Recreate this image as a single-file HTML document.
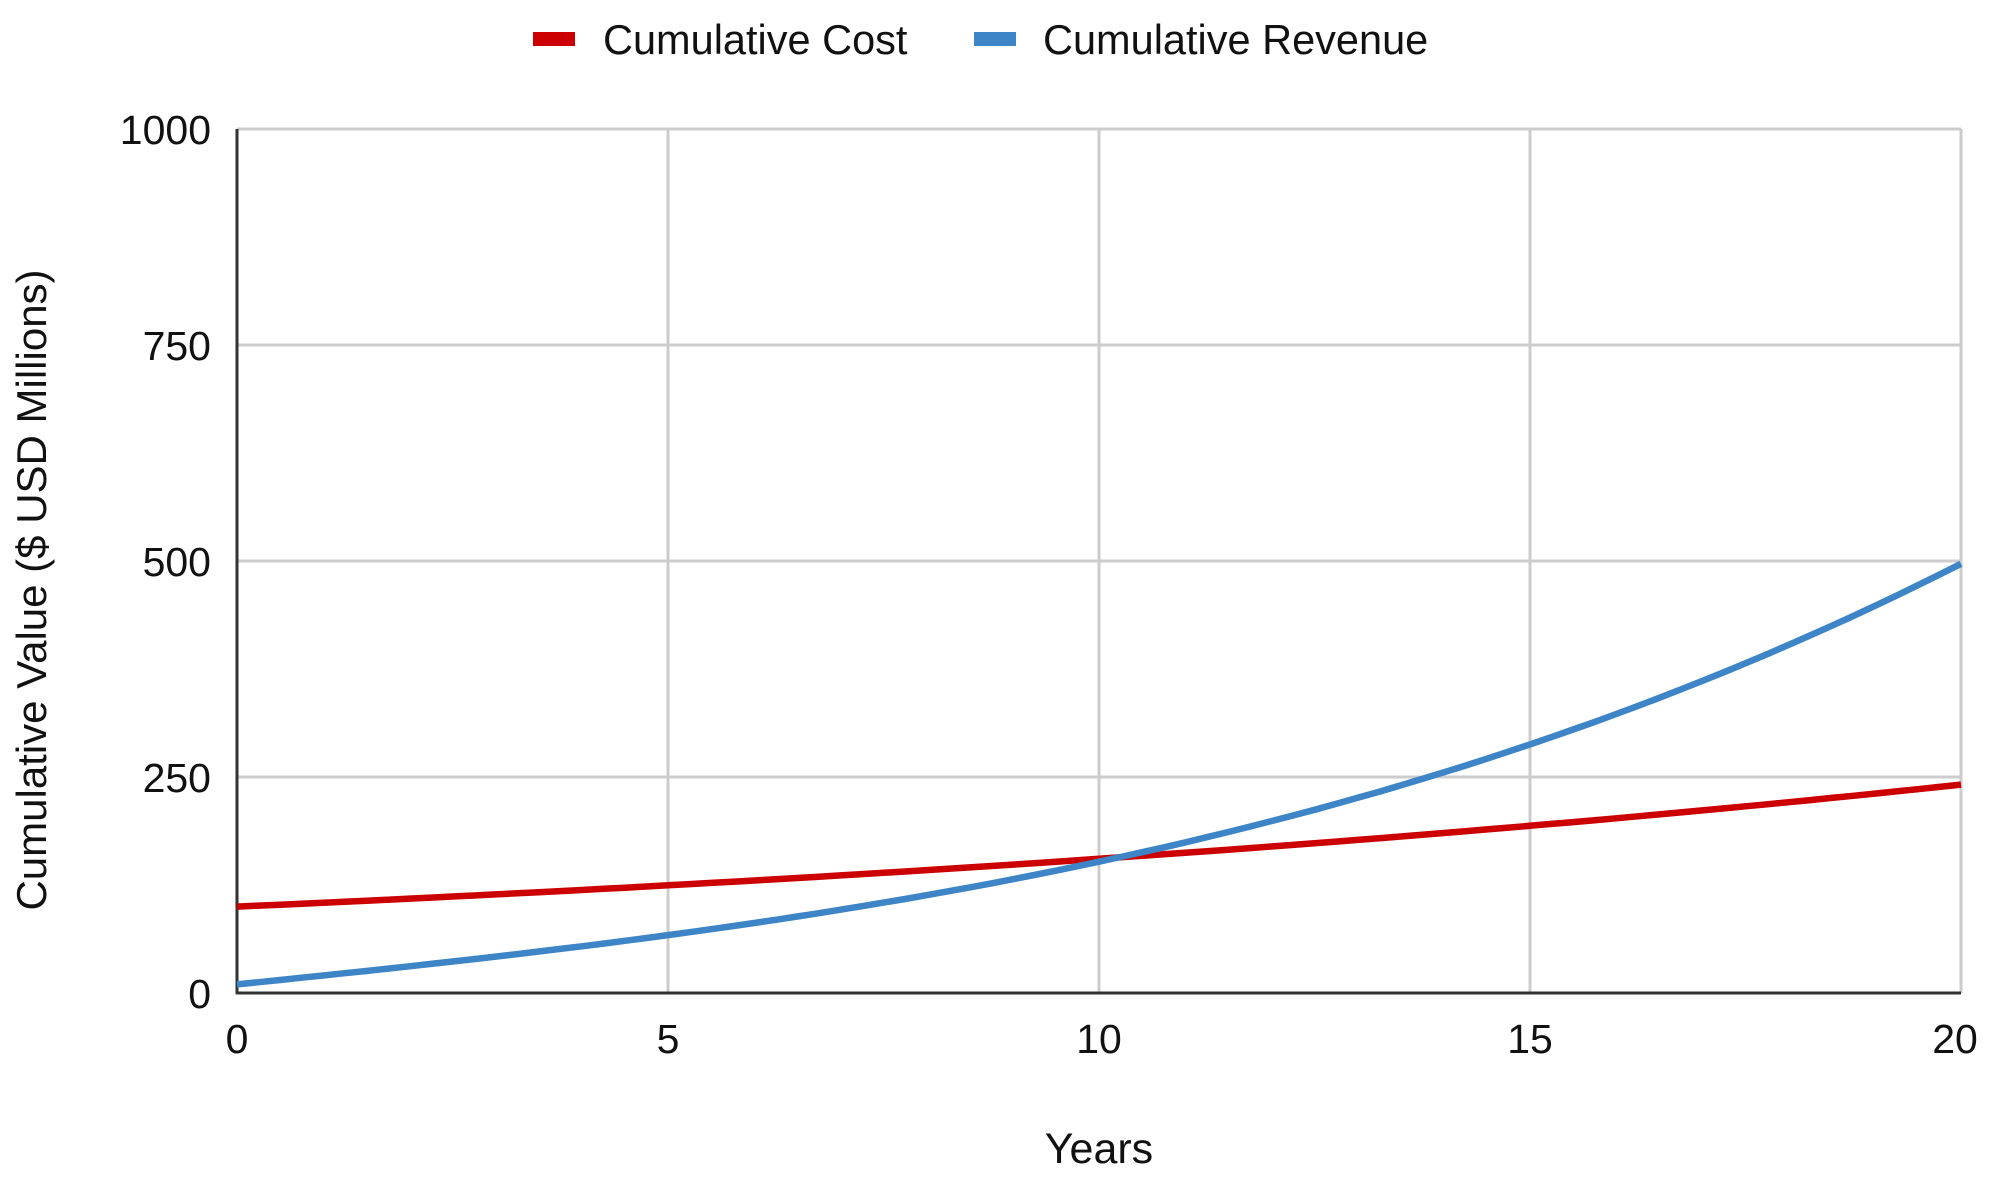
<!DOCTYPE html>
<html><head><style>
html,body{margin:0;padding:0;background:#fff;}
svg{display:block;}
text{font-family:"Liberation Sans",Arial,sans-serif;fill:#111;}
</style></head><body>
<svg width="2000" height="1183" viewBox="0 0 2000 1183">
<g stroke="#ccc" stroke-width="3">
<line x1="237" y1="129" x2="1961" y2="129"/>
<line x1="237" y1="345" x2="1961" y2="345"/>
<line x1="237" y1="561" x2="1961" y2="561"/>
<line x1="237" y1="777" x2="1961" y2="777"/>
<line x1="668" y1="129" x2="668" y2="993"/>
<line x1="1099" y1="129" x2="1099" y2="993"/>
<line x1="1530" y1="129" x2="1530" y2="993"/>
<line x1="1961" y1="129" x2="1961" y2="993"/>
</g>
<g stroke="#333" stroke-width="3">
<line x1="237" y1="129" x2="237" y2="994"/>
<line x1="236" y1="993" x2="1961" y2="993"/>
</g>
<polyline id="cost" fill="none" stroke="#cc0000" stroke-width="6.5" points=""/>
<polyline id="rev" fill="none" stroke="#3d85c6" stroke-width="6.5" points=""/>
<g font-size="41" text-anchor="end">
<text x="211" y="144">1000</text>
<text x="211" y="360">750</text>
<text x="211" y="576">500</text>
<text x="211" y="792">250</text>
<text x="211" y="1008">0</text>
</g>
<g font-size="41" text-anchor="middle">
<text x="237" y="1053">0</text>
<text x="668" y="1053">5</text>
<text x="1099" y="1053">10</text>
<text x="1530" y="1053">15</text>
<text x="1955" y="1053">20</text>
<text x="1099" y="1163" font-size="43">Years</text>
<text transform="translate(46,590) rotate(-90)" font-size="42">Cumulative Value ($ USD Millions)</text>
</g>
<rect x="533" y="32" width="42" height="14" fill="#cc0000"/>
<text x="603" y="54" font-size="41.5">Cumulative Cost</text>
<rect x="974" y="32" width="42" height="14" fill="#3d85c6"/>
<text x="1043" y="54" font-size="41.5">Cumulative Revenue</text>
</svg>
<script>
function pts(f){var s=[];for(var t=0;t<=20.001;t+=0.25){var x=237+t*86.2,y=993-f(t)*0.864;s.push(x.toFixed(1)+","+y.toFixed(1));}return s.join(" ");}
document.getElementById("cost").setAttribute("points",pts(function(t){return 100*Math.pow(1.045,t);}));
document.getElementById("rev").setAttribute("points",pts(function(t){return 10+10.12*t+0.105*t*t+0.0303*t*t*t;}));
</script>
</body></html>
